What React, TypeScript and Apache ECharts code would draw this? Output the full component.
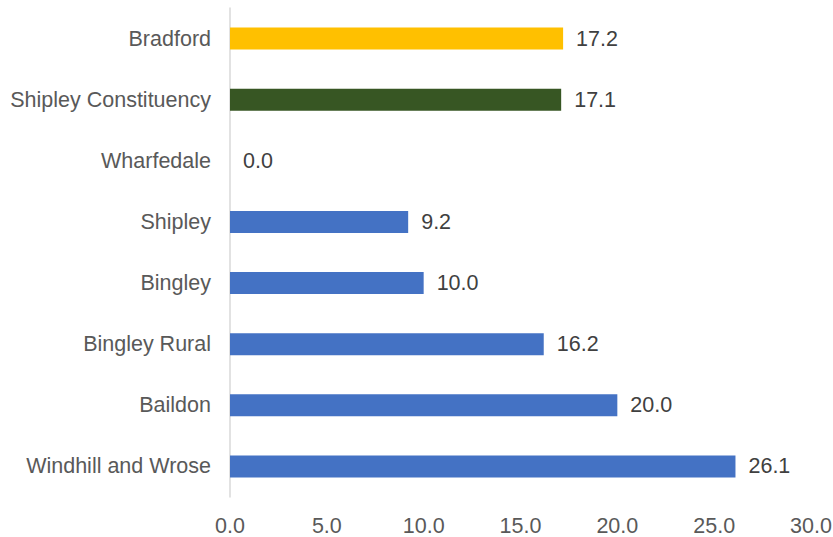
import React, { useEffect, useRef } from "react";
import * as echarts from "echarts";

const categories = [
  "Bradford",
  "Shipley Constituency",
  "Wharfedale",
  "Shipley",
  "Bingley",
  "Bingley Rural",
  "Baildon",
  "Windhill and Wrose",
];
const values = [17.2, 17.1, 0.0, 9.2, 10.0, 16.2, 20.0, 26.1];
const barColors = ["#FFC000", "#375623", "#4472C4", "#4472C4", "#4472C4", "#4472C4", "#4472C4", "#4472C4"];
const xMin = 0;
const xMax = 30;
const xStep = 5;

const FONT = "'Liberation Sans', Arial, sans-serif";
const FS = 21.5;

export default function App() {
  const ref = useRef<HTMLDivElement>(null);
  useEffect(() => {
    if (!ref.current) return;
    const chart = echarts.init(ref.current, undefined, { renderer: "svg" });
    chart.setOption({
      animation: false,
      backgroundColor: "#FFFFFF",
      grid: {
        left: 230,
        right: 22,
        top: 8,
        bottom: 40,
        containLabel: false,
        outerBoundsMode: "none",
      },
      xAxis: {
        type: "value",
        min: xMin,
        max: xMax,
        interval: xStep,
        axisLine: { show: false },
        axisTick: { show: false },
        splitLine: { show: false },
        axisLabel: {
          formatter: (v: number) => v.toFixed(1),
          color: "#595959",
          fontSize: FS,
          fontFamily: FONT,
          margin: 18,
        },
      },
      yAxis: {
        type: "category",
        inverse: true,
        data: categories,
        axisLine: { show: true, lineStyle: { color: "#D9D9D9", width: 1.5 } },
        axisTick: { show: false },
        splitLine: { show: false },
        axisLabel: {
          color: "#595959",
          fontSize: FS,
          fontFamily: FONT,
          margin: 19,
        },
      },
      series: [
        {
          type: "bar",
          barWidth: 22,
          data: values.map((v, i) => ({ value: v, itemStyle: { color: barColors[i] } })),
          label: {
            show: true,
            position: "right",
            distance: 13,
            formatter: (p: any) => Number(p.value).toFixed(1),
            color: "#404040",
            fontSize: FS,
            fontFamily: FONT,
          },
        },
      ],
    });
    return () => chart.dispose();
  }, []);
  return (
    <div
      ref={ref}
      style={{ position: "fixed", left: 0, top: 0, width: 833, height: 537 }}
    />
  );
}
